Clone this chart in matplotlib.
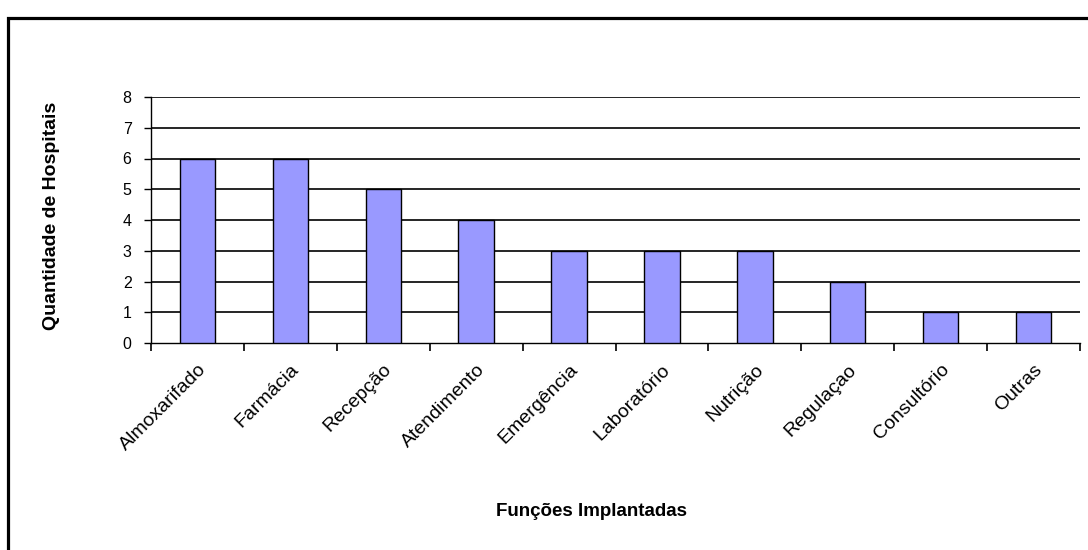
import matplotlib
matplotlib.use('Agg')
import matplotlib.pyplot as plt
from matplotlib.patches import Rectangle
import numpy as np

# Funções implantadas e número de hospitais
funcoes = ['Almoxarifado', 'Farmácia', 'Recepção', 'Atendimento', 'Emergência',
           'Laboratório', 'Nutrição', 'Regulaçao', 'Consultório', 'Outras']
hospitais = [6, 6, 5, 4, 3, 3, 3, 2, 1, 1]

plt.rcParams['font.family'] = ['Liberation Sans', 'DejaVu Sans']

fig = plt.figure(figsize=(10.88, 5.5), dpi=100)
fig.patch.set_facecolor('white')

# moldura do gráfico
fig.patches.append(Rectangle((8 / 1088, -0.2), 1.2, 1.2 - 17.5 / 550,
                             transform=fig.transFigure, fill=False,
                             edgecolor='black', linewidth=2.3))

ax = fig.add_axes([151 / 1088, 1 - 343 / 550, 929 / 1088, 246 / 550])

x = np.arange(len(funcoes))
ax.bar(x, hospitais, width=0.38, color='#9999FF', edgecolor='black',
       linewidth=1.0, zorder=3)

ax.set_xlim(-0.5, len(funcoes) - 0.5)
ax.set_ylim(0, 8)
ax.set_yticks(range(0, 9))
for v in range(1, 9):
    ax.axhline(v, color='black', linewidth=1.2, zorder=1)

ax.spines['top'].set_visible(False)
ax.spines['right'].set_visible(False)
ax.spines['left'].set_linewidth(1.0)
ax.spines['bottom'].set_linewidth(1.0)

# marcas entre as categorias
ax.set_xticks(x)
ax.set_xticks(np.arange(-0.5, len(funcoes)), minor=True)
ax.set_xticklabels(funcoes, rotation=45, ha='right', rotation_mode='anchor',
                   fontsize=14)
ax.tick_params(axis='x', which='major', length=0, pad=13)
ax.tick_params(axis='x', which='minor', length=6, width=1.2, direction='out')
ax.tick_params(axis='y', length=5, width=1.0, labelsize=11.5, pad=9)

ax.set_ylabel('Quantidade de Hospitais', fontsize=14, fontweight='bold')
ax.set_xlabel('Funções Implantadas', fontsize=13.5, fontweight='bold')
ax.xaxis.set_label_coords(440 / 929, -0.652)
ax.yaxis.set_label_coords(-0.098, 0.515)

fig.savefig('out.png', dpi=100, facecolor='white')
